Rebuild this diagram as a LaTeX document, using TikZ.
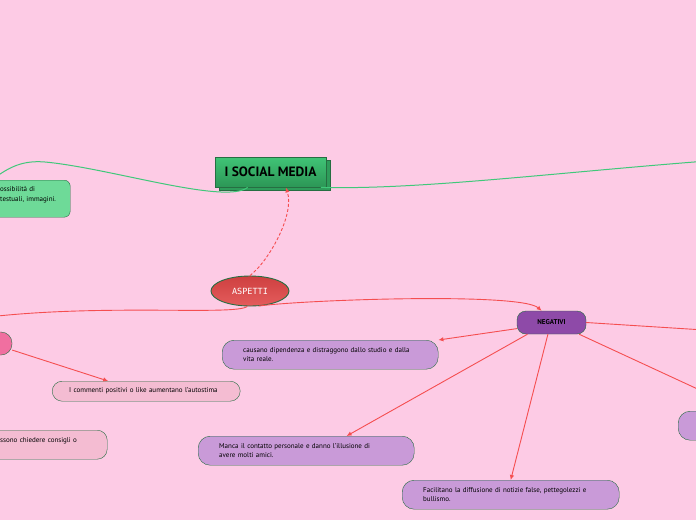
\documentclass[tikz,border=0pt]{standalone}
\usepackage{fontspec}
\setmainfont{PT Sans}
\newfontfamily\aspfont{DejaVu Sans Mono}
\usetikzlibrary{arrows.meta, shapes.geometric, shadows}
\definecolor{bgpink}{RGB}{253,203,229}
\definecolor{roottop}{RGB}{64,196,118}
\definecolor{rootbot}{RGB}{44,150,86}
\definecolor{rootshd}{RGB}{46,156,90}
\definecolor{darkgr}{RGB}{38,110,66}
\definecolor{edgegr}{RGB}{64,200,122}
\definecolor{lightgr}{RGB}{110,218,152}
\definecolor{redln}{RGB}{245,78,80}
\definecolor{asptop}{RGB}{206,64,64}
\definecolor{aspbot}{RGB}{228,92,92}
\definecolor{negfill}{RGB}{142,74,168}
\definecolor{lavfill}{RGB}{201,154,216}
\definecolor{lpink}{RGB}{244,188,210}
\definecolor{hotpink}{RGB}{240,111,160}
\tikzset{
  root/.style ={rectangle, draw=darkgr, line width=0.8pt, top color=roottop, bottom color=rootbot,
                minimum width=111pt, minimum height=30pt, font=\fontsize{13.5}{15}\selectfont\bfseries,
                copy shadow={shadow xshift=4pt, shadow yshift=-3pt, fill=rootshd, draw=darkgr}},
  gbox/.style ={rectangle, rounded corners=6pt, draw=darkgr, fill=lightgr, align=left,
                inner xsep=10pt, minimum height=37pt, font=\fontsize{7}{9.5}\selectfont},
  asp/.style  ={ellipse, draw=darkgr, line width=0.9pt, top color=asptop, bottom color=aspbot,
                minimum width=78pt, minimum height=30pt, inner sep=0pt, text=white,
                font=\aspfont\fontsize{8.5}{10}\selectfont},
  neg/.style  ={rectangle, rounded corners=9pt, draw=darkgr, fill=negfill, minimum width=69pt,
                minimum height=23pt, font=\fontsize{7}{8}\selectfont\bfseries},
  pbox/.style ={rectangle, rounded corners=12pt, draw=darkgr, fill=lavfill, align=left,
                inner xsep=21pt, minimum height=29pt, font=\fontsize{7}{9.5}\selectfont},
  kbox/.style ={rectangle, rounded corners=10pt, draw=darkgr, fill=lpink, align=left,
                font=\fontsize{7}{9.5}\selectfont},
  posbox/.style={rectangle, rounded corners=11pt, draw=darkgr, fill=hotpink, minimum width=74pt,
                minimum height=23pt},
  gline/.style={draw=edgegr, line width=1pt},
  rline/.style={draw=redln, line width=0.9pt},
  rarr/.style ={rline, -{Latex[length=5pt,width=4.5pt]}},
}
\begin{document}
\begin{tikzpicture}[x=1pt, y=-1pt]
  \path[use as bounding box, fill=bgpink] (0,0) rectangle (696,520);
  \clip (0,0) rectangle (696,520);
  % nodes
  \node[root] (root) at (270.5,172) {I SOCIAL MEDIA};
  \node[gbox, anchor=north west, text width=60pt] (poss) at (-10,180) {ossibilità di\\testuali, immagini.\\\mbox{}};
  \node[asp] (asp) at (250,291) {ASPETTI};
  \node[posbox] (posit) at (-25,343.5) {};
  \node[kbox, anchor=north west, inner xsep=17pt, text width=154pt, minimum height=20pt] (comm) at (52,381) {I commenti positivi o like aumentano l'autostima};
  \node[kbox, anchor=north west, inner xsep=20pt, text width=87pt, minimum height=29pt] (cons) at (-20,430) {ssono chiedere consigli o\\\mbox{}};
  \node[neg] (neg) at (551.5,322.5) {NEGATIVI};
  \node[pbox, anchor=north west, text width=174pt] (dip) at (222,340) {causano dipendenza e distraggono dallo studio e dalla\\vita reale.};
  \node[pbox, anchor=north west, text width=174pt] (cont) at (198,436) {Manca il contatto personale e  danno l'illusione di\\avere molti amici.};
  \node[pbox, anchor=north west, text width=175pt] (fals) at (402,480) {Facilitano la diffusione di notizie false, pettegolezzi e\\bullismo.};
  \node[pbox, anchor=north west, text width=174pt] (rpur) at (678,411) {};
  % free ends off the page
  \coordinate (gl) at (-20,190);
  \coordinate (gr) at (720,160);
  \coordinate (pl) at (-20,318);
  \coordinate (nr) at (720,331);
  \coordinate (nd) at (730,404);
  % connectors
  \draw[gline] (root.-146) .. controls (225,205) and (110,168) .. (45,162) .. controls (20,160) and (5,168) .. (gl);
  \draw[gline] (root.-17) .. controls (420,190) and (560,172) .. (gr);
  \draw[rarr, dash pattern=on 3pt off 2pt] (asp.north) .. controls (268,262) and (295,215) .. (root.-45);
  \draw[rline] (asp.-100) .. controls (235,316) and (100,303) .. (pl);
  \draw[rarr] (asp.-60) .. controls (300,300) and (520,292) .. (neg.130);
  \draw[rarr] (posit.-10) -- (comm.165);
  \draw[rarr] (neg.190) -- (dip.north east);
  \draw[rarr] (neg.-154) -- (cont.20);
  \draw[rarr] (neg.-107) -- (fals.north);
  \draw[rline] (neg.east) -- (nr);
  \draw[rline] (neg.-23) -- (nd);
\end{tikzpicture}
\end{document}
